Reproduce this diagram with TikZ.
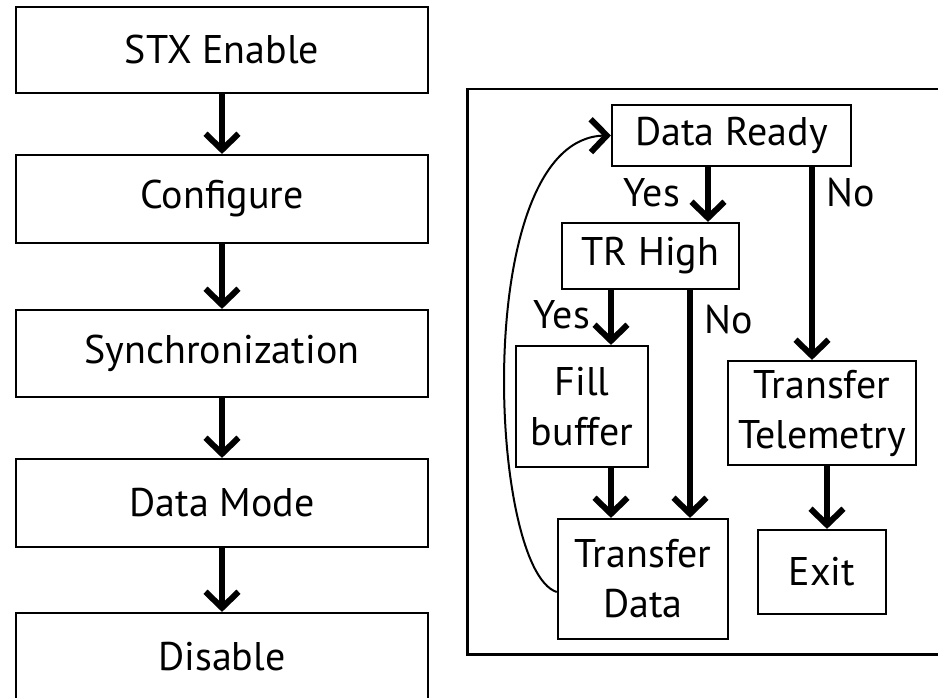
\documentclass[tikz,border=0pt]{standalone}
\usepackage{fontspec}
\setmainfont{PT Sans}
\usetikzlibrary{arrows.meta}
\pgfdeclarearrow{
  name = VTip,
  parameters = {\the\pgfarrowlength,\the\pgfarrowwidth},
  setup code = {
    \pgfarrowssettipend{0pt}
    \pgfarrowssetlineend{-6pt}
    \pgfarrowssetbackend{-\pgfarrowlength}
    \pgfarrowssavethe\pgfarrowlength
    \pgfarrowssavethe\pgfarrowwidth
  },
  drawing code = {
    \pgfsetdash{}{0pt}
    \pgfsetmiterjoin
    \pgfsetbuttcap
    \pgfsetlinewidth{6pt}
    \pgfpathmoveto{\pgfpoint{-\pgfarrowlength-4pt}{.5\pgfarrowwidth}}
    \pgfpathlineto{\pgfpoint{-4pt}{0pt}}
    \pgfpathlineto{\pgfpoint{-\pgfarrowlength-4pt}{-.5\pgfarrowwidth}}
    \pgfusepathqstroke
  },
  defaults = {length = 16pt, width = 34pt}
}
\begin{document}
\begin{tikzpicture}[x=1pt,y=-1pt,
  box/.style={draw, line width=2.5pt, inner sep=0pt, align=center, font=\fontsize{40}{50}\selectfont},
  arr/.style={line width=6pt, -{VTip[length=16pt,width=33pt]}},
  back/.style={line width=2pt, -{VTip[length=16pt,width=33pt]}},
  lbl/.style={inner sep=0pt, anchor=base, font=\fontsize{40}{50}\selectfont}]
\useasboundingbox (0,0) rectangle (938,698);
\clip (0,0) rectangle (938,698);
% left column
\node[box, minimum width=412pt, minimum height=86pt] (stx) at (222,50) {STX Enable};
\node[box, minimum width=412pt, minimum height=88pt] (cfg) at (222,199) {Configure};
\node[box, minimum width=412pt, minimum height=87pt] (syn) at (222,353.5) {Synchronization};
\node[box, minimum width=412pt, minimum height=88pt] (dm) at (222,503) {Data Mode};
\node[box, minimum width=412pt, minimum height=88pt] (dis) at (222,657) {Disable};
\draw[arr] (stx.south) -- (cfg.north);
\draw[arr] (cfg.south) -- (syn.north);
\draw[arr] (syn.south) -- (dm.north);
\draw[arr] (dm.south) -- (dis.north);
% right panel
\node[draw, line width=2.5pt, minimum width=500pt, minimum height=565pt, anchor=north west, inner sep=0pt] (panel) at (466,88) {};
\node[box, minimum width=239pt, minimum height=61pt] (dr) at (731.5,135.5) {Data Ready};
\node[box, minimum width=177pt, minimum height=66pt] (tr) at (650.5,256) {TR High};
\node[box, minimum width=132pt, minimum height=121pt] (fb) at (582,406.5) {Fill\\buffer};
\node[box, minimum width=170pt, minimum height=120pt] (td) at (643,579) {Transfer\\Data};
\node[box, minimum width=188pt, minimum height=104pt] (tt) at (822,413) {Transfer\\Telemetry};
\node[box, minimum width=128pt, minimum height=84pt] (ex) at (822,572) {Exit};
\coordinate (c1) at (708,0);
\coordinate (c2) at (812,0);
\coordinate (c3) at (611,0);
\coordinate (c4) at (690,0);
\coordinate (c5) at (827,0);
\coordinate (cy) at (0,592);
\draw[arr] (dr.south -| c1) -- (tr.north -| c1);
\draw[arr] (dr.south -| c2) -- (tt.north -| c2);
\draw[arr] (tr.south -| c3) -- (fb.north -| c3);
\draw[arr] (tr.south -| c4) -- (td.north -| c4);
\draw[arr] (fb.south -| c3) -- (td.north -| c3);
\draw[arr] (tt.south -| c5) -- (ex.north -| c5);
\draw[back] (td.west |- cy) .. controls (488,570) and (470,137) .. (dr.west);
% labels
\node[lbl] (y1) at (652,207) {Yes};
\node[lbl] (n1) at (851,207) {No};
\node[lbl] (y2) at (562,328) {Yes};
\node[lbl] (n2) at (729,333) {No};
\end{tikzpicture}
\end{document}
